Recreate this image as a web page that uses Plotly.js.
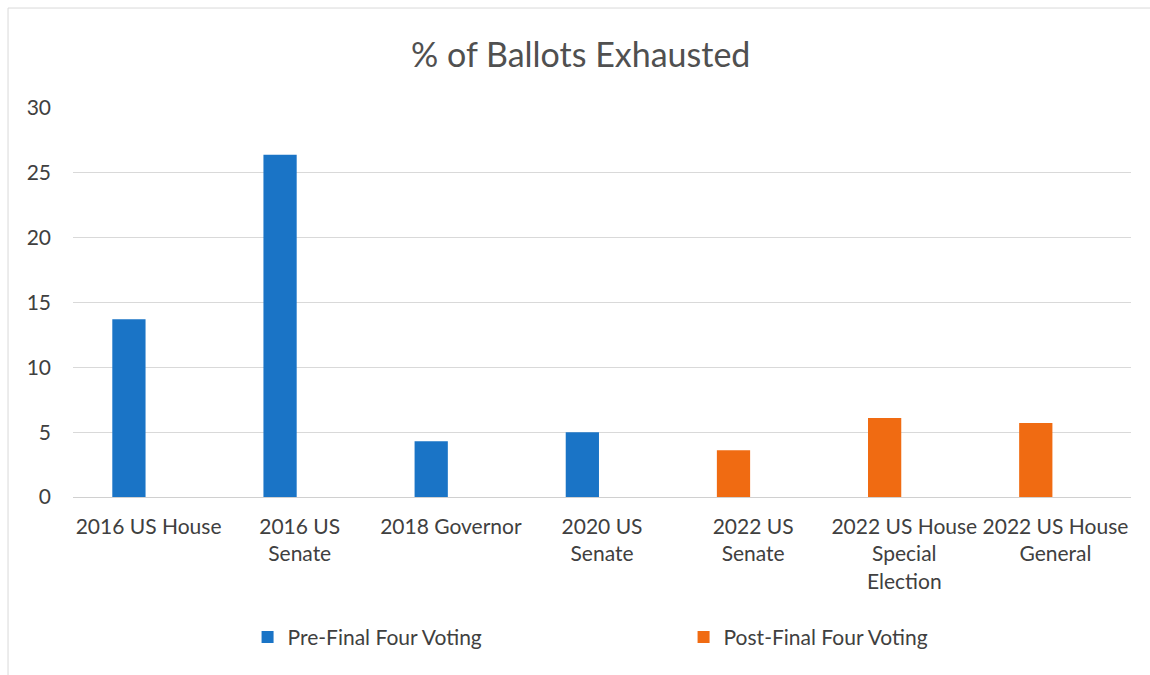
<!DOCTYPE html>
<html>
<head>
<meta charset="utf-8">
<script src="https://cdn.plot.ly/plotly-3.0.1.min.js"></script>
<style>
  html, body { margin: 0; padding: 0; background: #ffffff; }
  #chart { width: 1150px; height: 675px; }
</style>
</head>
<body>
<div id="chart"></div>
<script>
// ---- data ----
const categories = [
  "2016 US House",
  "2016 US<br>Senate",
  "2018 Governor",
  "2020 US<br>Senate",
  "2022 US<br>Senate",
  "2022 US House<br>Special<br>Election",
  "2022 US House<br>General"
];
const preFinalFour  = [13.7, 26.4, 4.3, 5.0, null, null, null];
const postFinalFour = [null, null, null, null, 3.6, 6.1, 5.7];
const seriesNames = ["Pre-Final Four Voting", "Post-Final Four Voting"];
const yTicks = [0, 5, 10, 15, 20, 25, 30];

const FONT = "Lato, 'Open Sans', 'Noto Sans', sans-serif";
const TXT = "#404040";

const traces = [
  {
    type: "bar", name: seriesNames[0], x: categories, y: preFinalFour,
    marker: { color: "#1a74c6" }, width: 0.22, offset: -0.24,
    hoverinfo: "x+y"
  },
  {
    type: "bar", name: seriesNames[1], x: categories, y: postFinalFour,
    marker: { color: "#f06b12" }, width: 0.22, offset: -0.24,
    hoverinfo: "x+y"
  }
];

const layout = {
  width: 1150, height: 675,
  margin: { l: 73, r: 19, t: 108, b: 178 },
  paper_bgcolor: "#ffffff", plot_bgcolor: "#ffffff",
  font: { family: FONT, size: 21, color: TXT },
  title: {
    text: "% of Ballots Exhausted",
    font: { family: FONT, size: 34, color: "#505050" },
    x: 0.505, xref: "container", xanchor: "center",
    y: 0.918, yref: "container", yanchor: "middle"
  },
  barmode: "overlay",
  showlegend: true,
  legend: {
    orientation: "h", x: 0.165, xanchor: "left", y: -0.308, yanchor: "top",
    font: { family: FONT, size: 21, color: TXT },
    entrywidth: 391, traceorder: "normal"
  },
  xaxis: {
    type: "category", range: [-0.5, 6.5],
    showgrid: false, showline: false, zeroline: false, ticks: "",
    tickfont: { family: FONT, size: 21, color: TXT },
    ticklabelstandoff: 15,
    tickangle: 0, automargin: false
  },
  yaxis: {
    range: [0, 30], tickvals: yTicks, ticktext: yTicks.map(String),
    showgrid: true, gridcolor: "#d9d9d9", gridwidth: 1,
    zeroline: true, zerolinecolor: "#d0d0d0", zerolinewidth: 1,
    showline: false, ticks: "",
    ticklabelstandoff: 21,
    tickfont: { family: FONT, size: 21, color: TXT },
    automargin: false
  },
  shapes: [
    { type: "line", xref: "paper", yref: "paper", x0: -0.0614, x1: -0.0614, y0: -0.46, y1: 1.257,
      line: { color: "#d9d9d9", width: 1 } },
    { type: "line", xref: "paper", yref: "paper", x0: -0.0614, x1: 1.02, y0: 1.257, y1: 1.257,
      line: { color: "#d9d9d9", width: 1 } }
  ]
};

Plotly.newPlot("chart", traces, layout, { displayModeBar: false, staticPlot: true });
</script>
</body>
</html>
